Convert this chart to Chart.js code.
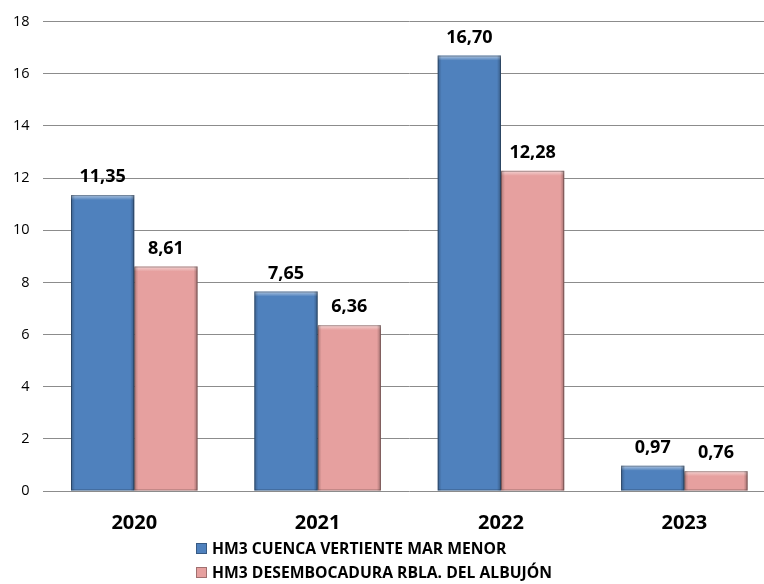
<!DOCTYPE html>
<html>
<head>
<meta charset="utf-8">
<script src="https://cdn.jsdelivr.net/npm/chart.js@4"></script>
<style>
  html, body { margin: 0; padding: 0; background: #fff; overflow: hidden; }
  #wrap { position: relative; width: 764px; height: 584px; overflow: hidden; }
  #legend { position: absolute; left: 196px; top: 536px; font-family: 'Open Sans', sans-serif; font-weight: bold; font-size: 15.7px; color: #000; }
  #legend div { display: flex; align-items: center; height: 24px; }
  #legend span.box { display: inline-block; width: 9px; height: 9px; margin-right: 5px; }
  canvas { position: absolute; left: 0; top: 0; }
</style>
</head>
<body>
<div id="wrap">
  <canvas id="chart" width="778" height="547"></canvas>
  <div id="legend"></div>
</div>
<script>
const years = ['2020', '2021', '2022', '2023'];
const cuencaValues = [11.35, 7.65, 16.70, 0.97];
const albujonValues = [8.61, 6.36, 12.28, 0.76];
const seriesNames = ['HM3 CUENCA VERTIENTE MAR MENOR', 'HM3 DESEMBOCADURA RBLA. DEL ALBUJÓN'];
const yTicks = [0, 2, 4, 6, 8, 10, 12, 14, 16, 18];

const blue = '#4f81bd';
const pink = '#e6a09f';

// fake the excel bevel: light top, darker sides/bottom
const bevelPlugin = {
  id: 'bevel',
  afterDatasetsDraw(chart) {
    const ctx = chart.ctx;
    chart.data.datasets.forEach((ds, i) => {
      chart.getDatasetMeta(i).data.forEach(bar => {
        const left = bar.x - bar.width / 2;
        const top = bar.y;
        const h = bar.base - bar.y;
        const w = bar.width;
        ctx.save();
        let g = ctx.createLinearGradient(0, top, 0, top + 5);
        g.addColorStop(0, 'rgba(255,255,255,0.55)');
        g.addColorStop(1, 'rgba(255,255,255,0)');
        ctx.fillStyle = g;
        ctx.fillRect(left, top, w, 5);
        g = ctx.createLinearGradient(left, 0, left + 4, 0);
        g.addColorStop(0, 'rgba(0,0,0,0.25)');
        g.addColorStop(1, 'rgba(0,0,0,0)');
        ctx.fillStyle = g;
        ctx.fillRect(left, top, 4, h);
        g = ctx.createLinearGradient(left + w, 0, left + w - 4, 0);
        g.addColorStop(0, 'rgba(0,0,0,0.3)');
        g.addColorStop(1, 'rgba(0,0,0,0)');
        ctx.fillStyle = g;
        ctx.fillRect(left + w - 4, top, 4, h);
        ctx.strokeStyle = 'rgba(0,0,0,0.3)';
        ctx.lineWidth = 1;
        ctx.strokeRect(left + 0.5, top + 0.5, w - 1, h - 1);
        ctx.restore();
      });
    });
  }
};

const valueLabels = {
  id: 'valueLabels',
  afterDatasetsDraw(chart) {
    const ctx = chart.ctx;
    ctx.save();
    ctx.font = 'bold 18px "Open Sans", sans-serif';
    ctx.fillStyle = '#000';
    ctx.textAlign = 'center';
    ctx.textBaseline = 'bottom';
    chart.data.datasets.forEach((ds, i) => {
      chart.getDatasetMeta(i).data.forEach((bar, j) => {
        const txt = ds.data[j].toFixed(2).replace('.', ',');
        ctx.fillText(txt, bar.x, bar.y - 9);
      });
    });
    ctx.restore();
  }
};

new Chart(document.getElementById('chart'), {
  type: 'bar',
  data: {
    labels: years,
    datasets: [
      { label: seriesNames[0], data: cuencaValues, backgroundColor: blue, categoryPercentage: 0.69, barPercentage: 1 },
      { label: seriesNames[1], data: albujonValues, backgroundColor: pink, categoryPercentage: 0.69, barPercentage: 1 }
    ]
  },
  options: {
    responsive: false,
    animation: false,
    layout: { padding: { top: 2, right: 2, left: 0 } },
    plugins: { legend: { display: false }, tooltip: { enabled: false } },
    scales: {
      x: {
        grid: { display: false },
        border: { display: false },
        ticks: { color: '#000', padding: 12, font: { family: 'Open Sans', weight: 'bold', size: 20 } }
      },
      y: {
        min: 0,
        max: 18,
        afterBuildTicks: axis => { axis.ticks = yTicks.map(v => ({ value: v })); },
        grid: { color: '#8c8c8c', drawTicks: false },
        border: { display: false },
        ticks: { color: '#000', padding: 13, font: { family: 'Open Sans', size: 14.5 } }
      }
    }
  },
  plugins: [bevelPlugin, valueLabels]
});

const legend = document.getElementById('legend');
legend.innerHTML = seriesNames.map((n, i) => `
  <div><span class="box" style="background:${i === 0 ? blue : pink}; border:1px solid rgba(0,0,0,0.3)"></span>${n}</div>
`).join('');
</script>
</body>
</html>
